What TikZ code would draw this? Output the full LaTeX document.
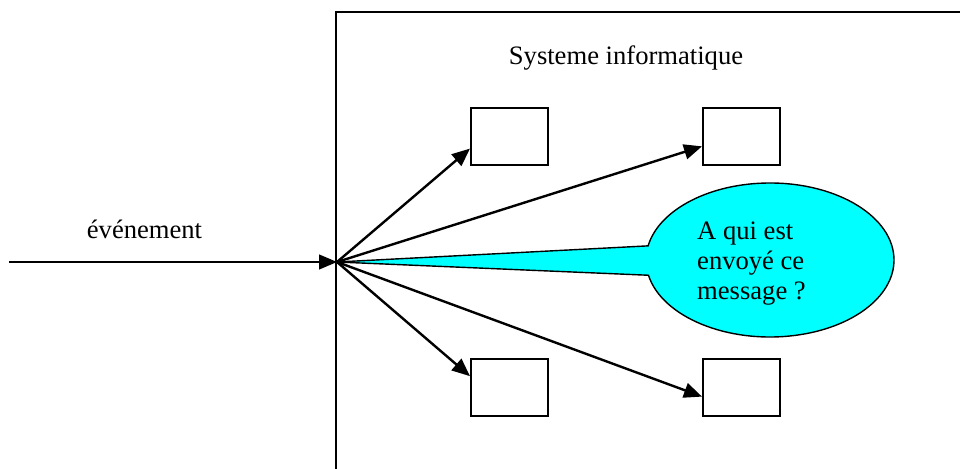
\documentclass[tikz,border=0pt]{standalone}
\usepackage{fontspec}
\setmainfont{Liberation Serif}
\usetikzlibrary{positioning,shapes.callouts,arrows.meta}
\definecolor{bubblecyan}{RGB}{0,255,255}

\begin{document}
\begin{tikzpicture}[x=0.5pt, y=-0.5pt, line width=1.2pt,
        font=\fontsize{13.3}{15}\selectfont,
        box/.style={draw, line width=1pt, minimum width=38.5pt, minimum height=28.5pt, inner sep=0pt},
        msgarrow/.style={-{Triangle[length=9pt,width=7.5pt]}}]
        \useasboundingbox (0,0) rectangle (960,469);
        % System frame, open to the right and bottom
        \draw[line width=1pt] (336,480) |- (970,12);
        \node[anchor=base] (sys) at (626,65) {Systeme informatique};
        % Points on the incoming line
        \coordinate (hub) at (337,262);
        \coordinate (start) at (9,262);
        \coordinate (stub) at (67,262);
        \coordinate (pre) at (298,262);
        \coordinate (pre2) at (325,262);
        % Objects inside the system
        \node[box] (tl) at (509.5,136.5) {};
        \node[box, right=76.5pt of tl] (tr) {};
        \node[box, below=96pt of tl] (bl) {};
        \node[box, below=96pt of tr] (br) {};
        % Question bubble
        \node[ellipse callout, draw, fill=bubblecyan, line width=0.7pt, minimum width=124pt, minimum height=77pt,
              callout absolute pointer={(hub)}, callout pointer arc=22] (bubble) at (770,260) {};
        \node[anchor=west, align=left, inner sep=0pt] (msg) at (696,264) {A qui est\\envoy\'e ce\\message ?};
        % Incoming event
        \draw[msgarrow, line width=0.6pt] (start) -- (hub);
        \draw (start) -- (stub);
        \draw (pre) -- (pre2);
        \node[anchor=base] (evt) at (144.5,239) {\'ev\'enement};
        % Edges
        \draw[msgarrow] (hub) -- (tl.197);
        \draw[msgarrow] (hub) -- (tr.194);
        \draw[msgarrow] (hub) -- (bl.164);
        \draw[msgarrow] (hub) -- (br.193);
\end{tikzpicture}
\end{document}
